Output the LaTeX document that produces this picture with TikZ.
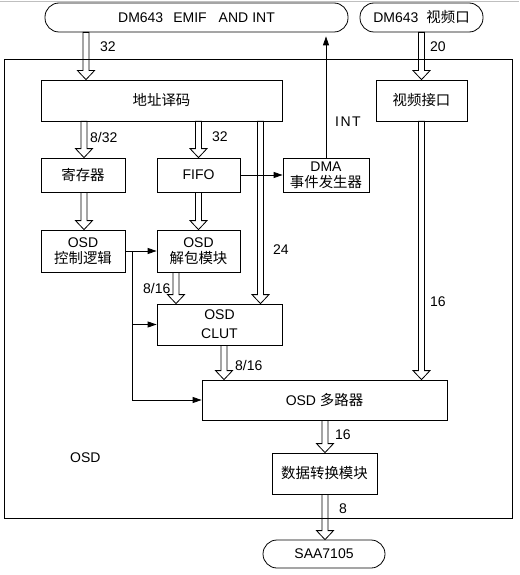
\documentclass[tikz,border=0pt]{standalone}
\usepackage{fontspec}
\setmainfont{Liberation Sans}
\newfontfamily\cjk{Noto Sans CJK SC}[Scale=1.03]
\usetikzlibrary{arrows.meta,calc}
\tikzset{
  blk/.style={draw, line width=0.8pt, inner sep=0pt, align=center, font=\fontsize{14}{17}\selectfont},
  term/.style={blk, rounded corners=14pt},
  lbl/.style={anchor=west, inner sep=0pt, font=\fontsize{14}{17}\selectfont},
  sig/.style={draw, line width=0.8pt, -{Triangle[length=9pt,width=6pt]}},
  bus/.style={draw, line width=0.8pt,
    to path={let \p1=(\tikztostart), \p2=(\tikztotarget) in
      (\x1-3pt,\y1) -- (\x1-3pt,\y2+9pt) -- (\x1-8.5pt,\y2+9pt) -- (\x1,\y2)
      -- (\x1+8.5pt,\y2+9pt) -- (\x1+3pt,\y2+9pt) -- (\x1+3pt,\y1) -- cycle}}
}
\begin{document}
\begin{tikzpicture}[x=1pt,y=-1pt]
\useasboundingbox (0,0) rectangle (519,575);
\draw[gray!50, line width=0.8pt] (0,1) -- (519,1);
% outer frame
\draw[line width=0.8pt] (4,59) rectangle (512,518);
% terminals
\node[term, minimum width=303pt, minimum height=29pt] (emif) at (196.5,17.5) {DM643\hspace{10pt}EMIF\hspace{12pt}AND\hspace{4pt}INT};
\node[term, minimum width=123pt, minimum height=29pt] (vport) at (421.5,17.5) {DM643\hspace{8pt}{\cjk 视频口}};
\node[term, minimum width=122pt, minimum height=28pt] (saa) at (324,554) {SAA7105};
% blocks
\node[blk, minimum width=241pt, minimum height=41pt] (addr) at (161.5,100.5) {\cjk 地址译码};
\node[blk, minimum width=91pt, minimum height=41pt] (vif) at (421.5,100.5) {\cjk 视频接口};
\node[blk, minimum width=84pt, minimum height=34pt] (reg) at (83,175) {\cjk 寄存器};
\node[blk, minimum width=83pt, minimum height=34pt] (fifo) at (198.5,175) {FIFO};
\node[blk, minimum width=86pt, minimum height=34pt] (dma) at (326,175) {DMA\\[-1pt]{\cjk 事件发生器}};
\node[blk, minimum width=84pt, minimum height=42pt] (ctrl) at (83,251) {OSD\\[-1pt]{\cjk 控制逻辑}};
\node[blk, minimum width=83pt, minimum height=42pt] (unpack) at (198.5,251) {OSD\\[-1pt]{\cjk 解包模块}};
\node[blk, minimum width=125pt, minimum height=41pt] (clut) at (219.5,324.5) {OSD\\[2pt]CLUT};
\node[blk, minimum width=245pt, minimum height=40pt] (mux) at (324.5,400) {OSD {\cjk 多路器}};
\node[blk, minimum width=105pt, minimum height=41pt] (conv) at (324.5,473.5) {\cjk 数据转换模块};
% bus x positions
\coordinate (b1) at (86,0);
\coordinate (b2) at (421.5,0);
\coordinate (b3) at (84,0);
\coordinate (b4) at (198.5,0);
\coordinate (b5) at (260.5,0);
\coordinate (b8) at (176,0);
\coordinate (b9) at (224,0);
\coordinate (b11) at (325,0);
% buses
\draw[bus] (emif.south -| b1) to (addr.north -| b1);
\draw[bus] (vport.south -| b2) to (vif.north -| b2);
\draw[bus] (addr.south -| b3) to (reg.north -| b3);
\draw[bus] (addr.south -| b4) to (fifo.north -| b4);
\draw[bus] (addr.south -| b5) to (clut.north -| b5);
\draw[bus] (reg.south -| b3) to (ctrl.north -| b3);
\draw[bus] (fifo.south -| b4) to (unpack.north -| b4);
\draw[bus] (unpack.south -| b8) to (clut.north -| b8);
\draw[bus] (clut.south -| b9) to (mux.north -| b9);
\draw[bus] (vif.south -| b2) to (mux.north -| b2);
\draw[bus] (mux.south -| b11) to (conv.north -| b11);
\draw[bus] (conv.south -| b11) to (saa.north -| b11);
% signals
\draw[sig, shorten >=4pt] (dma.north) -- (emif.south -| dma.north);
\draw[sig] (fifo.east) -- (dma.west);
\draw[sig] (ctrl.east) -- (unpack.west);
\coordinate (j1) at (132.5,251);
\draw[sig] (j1) |- (mux.west);
\draw[sig] (j1 |- clut.west) -- (clut.west);
% labels
\node[lbl] (l32a) at (100,47) {32};
\node[lbl] (l20) at (430,47) {20};
\node[lbl] (lint) at (335,122) {I\hspace{1.5pt}N\hspace{1.5pt}T};
\node[lbl] (l832) at (90,137) {8/32};
\node[lbl] (l32b) at (212,137) {32};
\node[lbl] (l24) at (273,250) {24};
\node[lbl] (l816a) at (143,288) {8/16};
\node[lbl] (l816b) at (235,365) {8/16};
\node[lbl] (l16a) at (430,302) {16};
\node[lbl] (l16b) at (335,435) {16};
\node[lbl] (l8) at (339,509) {8};
\node[lbl] (losd) at (70,458) {OSD};
\end{tikzpicture}
\end{document}
